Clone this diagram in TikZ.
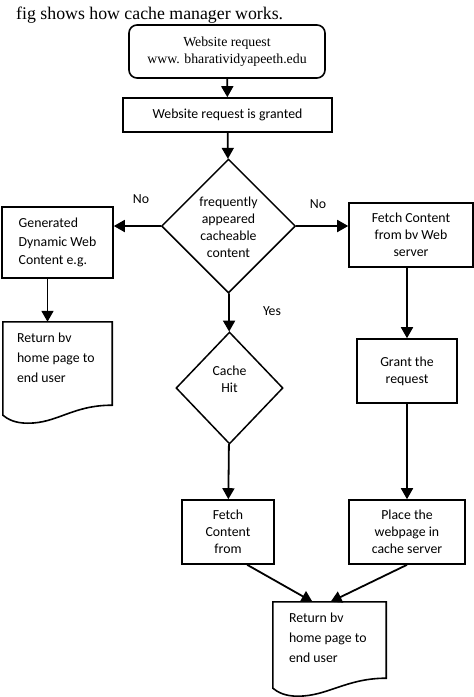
\documentclass[tikz,border=0pt]{standalone}
\usepackage{fontspec}
\setmainfont{Liberation Serif}
\newfontfamily\boxfont{Carlito}
\usetikzlibrary{positioning,calc,shapes.geometric,arrows.meta}

\tikzset{
  box/.style={draw, line width=1.6pt, rectangle, inner sep=0pt, align=center,
    font=\boxfont\fontsize{13.8}{17}\selectfont},
  decision/.style={draw, line width=1.5pt, diamond, inner sep=0pt},
  boxtext/.style={inner sep=0pt, font=\boxfont\fontsize{13.8}{17}\selectfont},
  flow/.style={line width=1.8pt, -{Triangle[length=11pt,width=12pt]}},
}

% outline of a flowchart document with a wavy bottom
\newcommand{\docoutline}[1]{%
  \draw[line width=1.6pt] (#1.north west) -- (#1.north east) -- ($(#1.south east)+(0,-18)$)
    .. controls ($(#1.south east)+(-40,-18)$) and ($(#1.south west)+(55,0)$) .. ($(#1.south west)+(25,0)$)
    .. controls ($(#1.south west)+(12,0)$) and ($(#1.south west)+(5,-4)$) .. ($(#1.south west)+(0,-8)$) -- cycle;}

\begin{document}
\begin{tikzpicture}[x=1pt, y=-1pt]
            \useasboundingbox (0,0) rectangle (474,697);
            \node[anchor=base west, inner sep=0pt, font=\fontsize{17.8}{20}\selectfont] at (16,19) (caption) {fig shows how cache manager works.};

            \node[box, rounded corners=8pt, minimum width=196, minimum height=53, font=\fontsize{13.8}{17}\selectfont] at (227,51.5) (start) {Website request\\www. bharatividyapeeth.edu};
            \node[box, minimum width=209, minimum height=34] at (227.5,115) (granted) {Website request is granted};

            \node[decision, minimum width=134, minimum height=134] at (228.5,226) (cacheable) {};
            \node[boxtext, align=center] at (228.5,227) (cacheabletxt) {frequently\\appeared\\cacheable\\content};

            \node[box, align=left, minimum width=111, minimum height=71, font=\boxfont\fontsize{13.8}{18.5}\selectfont] at (57.5,242.5) (dynamic) {Generated\\Dynamic Web\\Content e.g.};
            \node[box, minimum width=124, minimum height=64] at (411,235) (fetchweb) {Fetch Content\\from bv Web\\server};

            \node[minimum width=109, minimum height=101, inner sep=0pt] at (57.5,372.5) (return1) {};
            \docoutline{return1}
            \node[boxtext, align=left, anchor=north west, font=\boxfont\fontsize{13.8}{20}\selectfont] at ($(return1.north west)+(14,11)$) (return1txt) {Return bv\\home page to\\end user};

            \node[decision, minimum width=107, minimum height=112] at (229.5,388) (hit) {};
            \node[boxtext, align=center] at (229.5,379) (hittxt) {Cache\\Hit};

            \node[box, minimum width=100, minimum height=64] at (407,371) (grantreq) {Grant the\\request};
            \node[box, minimum width=92, minimum height=64] at (228,532) (fetchcache) {Fetch\\Content\\from};
            \node[box, minimum width=116, minimum height=64] at (407,532) (place) {Place the\\webpage in\\cache server};

            \node[minimum width=113, minimum height=94, inner sep=0pt] at (329.5,649) (return2) {};
            \docoutline{return2}
            \node[boxtext, align=left, anchor=north west, font=\boxfont\fontsize{13.8}{20}\selectfont] at ($(return2.north west)+(16,11)$) (return2txt) {Return bv\\home page to\\end user};

            \node[boxtext] at (141,199) (nol) {No};
            \node[boxtext] at (318,204) (nor) {No};
            \node[boxtext] at (272,311) (yes) {Yes};

            \draw[flow] (start) -- (granted);
            \draw[flow] (granted) -- (cacheable);
            \draw[flow] (cacheable.west) -- (cacheable.west -| dynamic.east);
            \draw[flow] (cacheable.east) -- (cacheable.east -| fetchweb.west);
            \draw[flow] ($(dynamic.south)+(-10,0)$) -- ($(return1.north)+(-10,0)$);
            \draw[flow] (cacheable) -- (hit);
            \draw[flow] (hit) -- (fetchcache);
            \draw[flow] (fetchweb.south -| grantreq.north) -- (grantreq);
            \draw[flow] (grantreq) -- (place);
            \draw[flow] ($(fetchcache.south)!0.41!(fetchcache.south east)$) -- ($(return2.north west)!0.35!(return2.north east)$);
            \draw[flow] (place.south) -- ($(return2.north west)!0.51!(return2.north east)$);
        \end{tikzpicture}
\end{document}
